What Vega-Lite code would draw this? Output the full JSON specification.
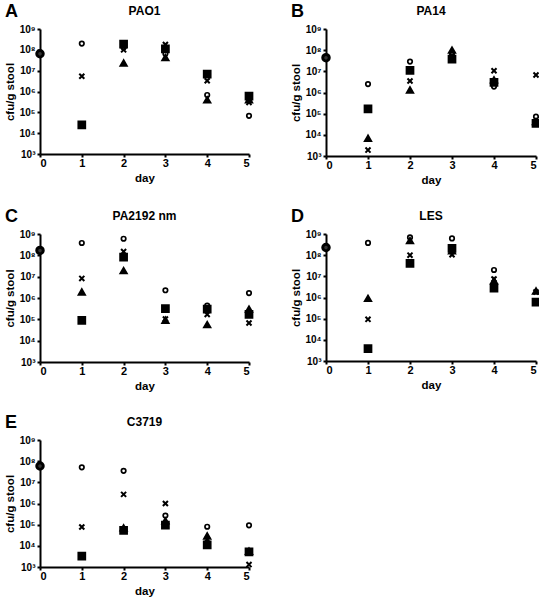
{
  "$schema": "https://vega.github.io/schema/vega-lite/v6.json",
  "background": "white",
  "padding": {"left": 4, "top": 3, "right": 0, "bottom": 0},
  "config": {
    "font": "Liberation Sans",
    "view": {"stroke": null},
    "axis": {
      "grid": false,
      "domainColor": "black",
      "domainWidth": 2,
      "tickColor": "black",
      "tickWidth": 2,
      "tickSize": 3,
      "labelFont": "Liberation Sans",
      "labelFontWeight": "bold",
      "labelColor": "black",
      "titleFont": "Liberation Sans",
      "titleFontWeight": "bold",
      "titleColor": "black",
      "titleFontSize": 11.5
    },
    "axisX": {"labelPadding": 0, "titlePadding": 4},
    "title": {"font": "Liberation Sans", "fontWeight": "bold", "color": "black"}
  },
  "datasets": {
    "pts": [
      {"panel": "A", "day": 0, "type": "baseline", "cfu": 6.5e7},
      {"panel": "A", "day": 1, "type": "circle", "cfu": 2e8},
      {"panel": "A", "day": 1, "type": "cross", "cfu": 5.4e6},
      {"panel": "A", "day": 1, "type": "square", "cfu": 2.5e4},
      {"panel": "A", "day": 2, "type": "circle", "cfu": 1.3e8},
      {"panel": "A", "day": 2, "type": "square", "cfu": 1.9e8},
      {"panel": "A", "day": 2, "type": "cross", "cfu": 1e8},
      {"panel": "A", "day": 2, "type": "triangle", "cfu": 2.3e7},
      {"panel": "A", "day": 3, "type": "circle", "cfu": 6.5e7},
      {"panel": "A", "day": 3, "type": "square", "cfu": 1.1e8},
      {"panel": "A", "day": 3, "type": "cross", "cfu": 1.8e8},
      {"panel": "A", "day": 3, "type": "triangle", "cfu": 4.2e7},
      {"panel": "A", "day": 4, "type": "circle", "cfu": 6.8e5},
      {"panel": "A", "day": 4, "type": "square", "cfu": 6.9e6},
      {"panel": "A", "day": 4, "type": "cross", "cfu": 3.3e6},
      {"panel": "A", "day": 4, "type": "triangle", "cfu": 3.9e5},
      {"panel": "A", "day": 5, "type": "circle", "cfu": 6.8e4},
      {"panel": "A", "day": 5, "type": "square", "cfu": 6e5},
      {"panel": "A", "day": 5, "type": "cross", "cfu": 3e5},
      {"panel": "A", "day": 5, "type": "triangle", "cfu": 4e5},

      {"panel": "B", "day": 0, "type": "baseline", "cfu": 4.4e7},
      {"panel": "B", "day": 1, "type": "circle", "cfu": 2.5e6},
      {"panel": "B", "day": 1, "type": "square", "cfu": 1.7e5},
      {"panel": "B", "day": 1, "type": "triangle", "cfu": 6.8e3},
      {"panel": "B", "day": 1, "type": "cross", "cfu": 1.9e3},
      {"panel": "B", "day": 2, "type": "circle", "cfu": 2.9e7},
      {"panel": "B", "day": 2, "type": "square", "cfu": 1.1e7},
      {"panel": "B", "day": 2, "type": "cross", "cfu": 3.5e6},
      {"panel": "B", "day": 2, "type": "triangle", "cfu": 1.3e6},
      {"panel": "B", "day": 3, "type": "circle", "cfu": 7e7},
      {"panel": "B", "day": 3, "type": "square", "cfu": 3.8e7},
      {"panel": "B", "day": 3, "type": "cross", "cfu": 5.5e7},
      {"panel": "B", "day": 3, "type": "triangle", "cfu": 1e8},
      {"panel": "B", "day": 4, "type": "circle", "cfu": 1.9e6},
      {"panel": "B", "day": 4, "type": "square", "cfu": 3e6},
      {"panel": "B", "day": 4, "type": "cross", "cfu": 1.07e7},
      {"panel": "B", "day": 4, "type": "triangle", "cfu": 3.9e6},
      {"panel": "B", "day": 5, "type": "circle", "cfu": 7.2e4},
      {"panel": "B", "day": 5, "type": "square", "cfu": 3.5e4},
      {"panel": "B", "day": 5, "type": "cross", "cfu": 6.7e6},
      {"panel": "B", "day": 5, "type": "triangle", "cfu": 4.2e4},

      {"panel": "C", "day": 0, "type": "baseline", "cfu": 1.7e8},
      {"panel": "C", "day": 1, "type": "circle", "cfu": 3.8e8},
      {"panel": "C", "day": 1, "type": "cross", "cfu": 8.3e6},
      {"panel": "C", "day": 1, "type": "triangle", "cfu": 1.9e6},
      {"panel": "C", "day": 1, "type": "square", "cfu": 8.9e4},
      {"panel": "C", "day": 2, "type": "circle", "cfu": 6e8},
      {"panel": "C", "day": 2, "type": "square", "cfu": 8.3e7},
      {"panel": "C", "day": 2, "type": "cross", "cfu": 1.5e8},
      {"panel": "C", "day": 2, "type": "triangle", "cfu": 1.9e7},
      {"panel": "C", "day": 3, "type": "circle", "cfu": 2.3e6},
      {"panel": "C", "day": 3, "type": "square", "cfu": 3.2e5},
      {"panel": "C", "day": 3, "type": "triangle", "cfu": 9e4},
      {"panel": "C", "day": 3, "type": "cross", "cfu": 1.04e5},
      {"panel": "C", "day": 4, "type": "circle", "cfu": 4.4e5},
      {"panel": "C", "day": 4, "type": "square", "cfu": 3e5},
      {"panel": "C", "day": 4, "type": "cross", "cfu": 1.7e5},
      {"panel": "C", "day": 4, "type": "triangle", "cfu": 5.6e4},
      {"panel": "C", "day": 5, "type": "circle", "cfu": 1.7e6},
      {"panel": "C", "day": 5, "type": "triangle", "cfu": 3e5},
      {"panel": "C", "day": 5, "type": "square", "cfu": 1.7e5},
      {"panel": "C", "day": 5, "type": "cross", "cfu": 6.7e4},

      {"panel": "D", "day": 0, "type": "baseline", "cfu": 2.3e8},
      {"panel": "D", "day": 1, "type": "circle", "cfu": 3.8e8},
      {"panel": "D", "day": 1, "type": "triangle", "cfu": 9e5},
      {"panel": "D", "day": 1, "type": "cross", "cfu": 9.3e4},
      {"panel": "D", "day": 1, "type": "square", "cfu": 3.8e3},
      {"panel": "D", "day": 2, "type": "circle", "cfu": 6.9e8},
      {"panel": "D", "day": 2, "type": "triangle", "cfu": 4.8e8},
      {"panel": "D", "day": 2, "type": "cross", "cfu": 1e8},
      {"panel": "D", "day": 2, "type": "square", "cfu": 4.1e7},
      {"panel": "D", "day": 3, "type": "circle", "cfu": 6.2e8},
      {"panel": "D", "day": 3, "type": "triangle", "cfu": 1.6e8},
      {"panel": "D", "day": 3, "type": "square", "cfu": 2.1e8},
      {"panel": "D", "day": 3, "type": "cross", "cfu": 1.05e8},
      {"panel": "D", "day": 4, "type": "circle", "cfu": 2e7},
      {"panel": "D", "day": 4, "type": "triangle", "cfu": 6e6},
      {"panel": "D", "day": 4, "type": "cross", "cfu": 7.4e6},
      {"panel": "D", "day": 4, "type": "square", "cfu": 2.8e6},
      {"panel": "D", "day": 5, "type": "triangle", "cfu": 2e6},
      {"panel": "D", "day": 5, "type": "cross", "cfu": 1.8e6},
      {"panel": "D", "day": 5, "type": "square", "cfu": 6e5},

      {"panel": "E", "day": 0, "type": "baseline", "cfu": 5.9e7},
      {"panel": "E", "day": 1, "type": "circle", "cfu": 5.1e7},
      {"panel": "E", "day": 1, "type": "cross", "cfu": 7.8e4},
      {"panel": "E", "day": 1, "type": "square", "cfu": 3.3e3},
      {"panel": "E", "day": 2, "type": "circle", "cfu": 3.5e7},
      {"panel": "E", "day": 2, "type": "cross", "cfu": 2.7e6},
      {"panel": "E", "day": 2, "type": "triangle", "cfu": 7e4},
      {"panel": "E", "day": 2, "type": "square", "cfu": 5.4e4},
      {"panel": "E", "day": 3, "type": "cross", "cfu": 1e6},
      {"panel": "E", "day": 3, "type": "circle", "cfu": 2.7e5},
      {"panel": "E", "day": 3, "type": "triangle", "cfu": 1.5e5},
      {"panel": "E", "day": 3, "type": "square", "cfu": 9.6e4},
      {"panel": "E", "day": 4, "type": "circle", "cfu": 8e4},
      {"panel": "E", "day": 4, "type": "triangle", "cfu": 2.9e4},
      {"panel": "E", "day": 4, "type": "cross", "cfu": 2e4},
      {"panel": "E", "day": 4, "type": "square", "cfu": 1.1e4},
      {"panel": "E", "day": 5, "type": "circle", "cfu": 9.3e4},
      {"panel": "E", "day": 5, "type": "triangle", "cfu": 5.5e3},
      {"panel": "E", "day": 5, "type": "square", "cfu": 5.2e3},
      {"panel": "E", "day": 5, "type": "cross", "cfu": 1.3e3}
    ]
  },
  "columns": 2,
  "spacing": {"row": 22, "column": 32},
  "concat": [
    {
      "title": {"text": "A", "anchor": "start", "frame": "bounds", "fontSize": 18, "offset": -16},
      "vconcat": [{
        "title": {"text": "PAO1", "fontSize": 12, "offset": 6},
        "width": 209, "height": 125,
        "data": {"name": "pts"},
        "transform": [{"filter": "datum.panel === 'A'"}],
        "mark": {"type": "point", "stroke": "black", "opacity": 1, "clip": false},
        "encoding": {
          "x": {"field": "day", "type": "quantitative", "scale": {"domain": [0, 5], "nice": false, "zero": false}, "axis": {"values": [0, 1, 2, 3, 4, 5], "format": "d", "title": "day", "labelFontSize": 11}},
          "y": {"field": "cfu", "type": "quantitative", "scale": {"type": "log", "domain": [1000, 1000000000], "nice": false}, "axis": {"values": [1000, 10000, 100000, 1000000, 10000000, 100000000, 1000000000], "labelExpr": "'10' + ['⁰','¹','²','³','⁴','⁵','⁶','⁷','⁸','⁹'][round(log(datum.value)/LN10)]", "title": "cfu/g stool", "labelFontSize": 10, "titlePadding": 3}},
          "shape": {"field": "type", "type": "nominal", "scale": {"domain": ["circle", "cross", "triangle", "square", "baseline"], "range": ["circle", "M-1,-1L1,1M-1,1L1,-1", "triangle-up", "square", "circle"]}, "legend": null},
          "fill": {"field": "type", "type": "nominal", "scale": {"domain": ["circle", "cross", "triangle", "square", "baseline"], "range": ["white", "black", "black", "black", "#333333"]}, "legend": null},
          "strokeWidth": {"field": "type", "type": "nominal", "scale": {"domain": ["circle", "cross", "triangle", "square", "baseline"], "range": [1.7, 3, 1, 1, 1]}, "legend": null},
          "size": {"field": "type", "type": "nominal", "scale": {"domain": ["circle", "cross", "triangle", "square", "baseline"], "range": [20, 42, 26, 18, 14]}, "legend": null}
        }
      }]
    },
    {
      "title": {"text": "B", "anchor": "start", "frame": "bounds", "fontSize": 18, "offset": -16},
      "vconcat": [{
        "title": {"text": "PA14", "fontSize": 12, "offset": 6},
        "width": 210, "height": 127,
        "data": {"name": "pts"},
        "transform": [{"filter": "datum.panel === 'B'"}],
        "mark": {"type": "point", "stroke": "black", "opacity": 1, "clip": false},
        "encoding": {
          "x": {"field": "day", "type": "quantitative", "scale": {"domain": [0, 5], "nice": false, "zero": false}, "axis": {"values": [0, 1, 2, 3, 4, 5], "format": "d", "title": "day", "labelFontSize": 11}},
          "y": {"field": "cfu", "type": "quantitative", "scale": {"type": "log", "domain": [1000, 1000000000], "nice": false}, "axis": {"values": [1000, 10000, 100000, 1000000, 10000000, 100000000, 1000000000], "labelExpr": "'10' + ['⁰','¹','²','³','⁴','⁵','⁶','⁷','⁸','⁹'][round(log(datum.value)/LN10)]", "title": "cfu/g stool", "labelFontSize": 10, "titlePadding": 3}},
          "shape": {"field": "type", "type": "nominal", "scale": {"domain": ["circle", "cross", "triangle", "square", "baseline"], "range": ["circle", "M-1,-1L1,1M-1,1L1,-1", "triangle-up", "square", "circle"]}, "legend": null},
          "fill": {"field": "type", "type": "nominal", "scale": {"domain": ["circle", "cross", "triangle", "square", "baseline"], "range": ["white", "black", "black", "black", "#333333"]}, "legend": null},
          "strokeWidth": {"field": "type", "type": "nominal", "scale": {"domain": ["circle", "cross", "triangle", "square", "baseline"], "range": [1.7, 3, 1, 1, 1]}, "legend": null},
          "size": {"field": "type", "type": "nominal", "scale": {"domain": ["circle", "cross", "triangle", "square", "baseline"], "range": [20, 42, 26, 18, 14]}, "legend": null}
        }
      }]
    },
    {
      "title": {"text": "C", "anchor": "start", "frame": "bounds", "fontSize": 18, "offset": -16},
      "vconcat": [{
        "title": {"text": "PA2192 nm", "fontSize": 12, "offset": 6},
        "width": 209, "height": 128,
        "data": {"name": "pts"},
        "transform": [{"filter": "datum.panel === 'C'"}],
        "mark": {"type": "point", "stroke": "black", "opacity": 1, "clip": false},
        "encoding": {
          "x": {"field": "day", "type": "quantitative", "scale": {"domain": [0, 5], "nice": false, "zero": false}, "axis": {"values": [0, 1, 2, 3, 4, 5], "format": "d", "title": "day", "labelFontSize": 11}},
          "y": {"field": "cfu", "type": "quantitative", "scale": {"type": "log", "domain": [1000, 1000000000], "nice": false}, "axis": {"values": [1000, 10000, 100000, 1000000, 10000000, 100000000, 1000000000], "labelExpr": "'10' + ['⁰','¹','²','³','⁴','⁵','⁶','⁷','⁸','⁹'][round(log(datum.value)/LN10)]", "title": "cfu/g stool", "labelFontSize": 10, "titlePadding": 3}},
          "shape": {"field": "type", "type": "nominal", "scale": {"domain": ["circle", "cross", "triangle", "square", "baseline"], "range": ["circle", "M-1,-1L1,1M-1,1L1,-1", "triangle-up", "square", "circle"]}, "legend": null},
          "fill": {"field": "type", "type": "nominal", "scale": {"domain": ["circle", "cross", "triangle", "square", "baseline"], "range": ["white", "black", "black", "black", "#333333"]}, "legend": null},
          "strokeWidth": {"field": "type", "type": "nominal", "scale": {"domain": ["circle", "cross", "triangle", "square", "baseline"], "range": [1.7, 3, 1, 1, 1]}, "legend": null},
          "size": {"field": "type", "type": "nominal", "scale": {"domain": ["circle", "cross", "triangle", "square", "baseline"], "range": [20, 42, 26, 18, 14]}, "legend": null}
        }
      }]
    },
    {
      "title": {"text": "D", "anchor": "start", "frame": "bounds", "fontSize": 18, "offset": -16},
      "vconcat": [{
        "title": {"text": "LES", "fontSize": 12, "offset": 6},
        "width": 210, "height": 127,
        "data": {"name": "pts"},
        "transform": [{"filter": "datum.panel === 'D'"}],
        "mark": {"type": "point", "stroke": "black", "opacity": 1, "clip": false},
        "encoding": {
          "x": {"field": "day", "type": "quantitative", "scale": {"domain": [0, 5], "nice": false, "zero": false}, "axis": {"values": [0, 1, 2, 3, 4, 5], "format": "d", "title": "day", "labelFontSize": 11}},
          "y": {"field": "cfu", "type": "quantitative", "scale": {"type": "log", "domain": [1000, 1000000000], "nice": false}, "axis": {"values": [1000, 10000, 100000, 1000000, 10000000, 100000000, 1000000000], "labelExpr": "'10' + ['⁰','¹','²','³','⁴','⁵','⁶','⁷','⁸','⁹'][round(log(datum.value)/LN10)]", "title": "cfu/g stool", "labelFontSize": 10, "titlePadding": 3}},
          "shape": {"field": "type", "type": "nominal", "scale": {"domain": ["circle", "cross", "triangle", "square", "baseline"], "range": ["circle", "M-1,-1L1,1M-1,1L1,-1", "triangle-up", "square", "circle"]}, "legend": null},
          "fill": {"field": "type", "type": "nominal", "scale": {"domain": ["circle", "cross", "triangle", "square", "baseline"], "range": ["white", "black", "black", "black", "#333333"]}, "legend": null},
          "strokeWidth": {"field": "type", "type": "nominal", "scale": {"domain": ["circle", "cross", "triangle", "square", "baseline"], "range": [1.7, 3, 1, 1, 1]}, "legend": null},
          "size": {"field": "type", "type": "nominal", "scale": {"domain": ["circle", "cross", "triangle", "square", "baseline"], "range": [20, 42, 26, 18, 14]}, "legend": null}
        }
      }]
    },
    {
      "title": {"text": "E", "anchor": "start", "frame": "bounds", "fontSize": 18, "offset": -16},
      "vconcat": [{
        "title": {"text": "C3719", "fontSize": 12, "offset": 6},
        "width": 209, "height": 127,
        "data": {"name": "pts"},
        "transform": [{"filter": "datum.panel === 'E'"}],
        "mark": {"type": "point", "stroke": "black", "opacity": 1, "clip": false},
        "encoding": {
          "x": {"field": "day", "type": "quantitative", "scale": {"domain": [0, 5], "nice": false, "zero": false}, "axis": {"values": [0, 1, 2, 3, 4, 5], "format": "d", "title": "day", "labelFontSize": 11}},
          "y": {"field": "cfu", "type": "quantitative", "scale": {"type": "log", "domain": [1000, 1000000000], "nice": false}, "axis": {"values": [1000, 10000, 100000, 1000000, 10000000, 100000000, 1000000000], "labelExpr": "'10' + ['⁰','¹','²','³','⁴','⁵','⁶','⁷','⁸','⁹'][round(log(datum.value)/LN10)]", "title": "cfu/g stool", "labelFontSize": 10, "titlePadding": 3}},
          "shape": {"field": "type", "type": "nominal", "scale": {"domain": ["circle", "cross", "triangle", "square", "baseline"], "range": ["circle", "M-1,-1L1,1M-1,1L1,-1", "triangle-up", "square", "circle"]}, "legend": null},
          "fill": {"field": "type", "type": "nominal", "scale": {"domain": ["circle", "cross", "triangle", "square", "baseline"], "range": ["white", "black", "black", "black", "#333333"]}, "legend": null},
          "strokeWidth": {"field": "type", "type": "nominal", "scale": {"domain": ["circle", "cross", "triangle", "square", "baseline"], "range": [1.7, 3, 1, 1, 1]}, "legend": null},
          "size": {"field": "type", "type": "nominal", "scale": {"domain": ["circle", "cross", "triangle", "square", "baseline"], "range": [20, 42, 26, 18, 14]}, "legend": null}
        }
      }]
    }
  ]
}
